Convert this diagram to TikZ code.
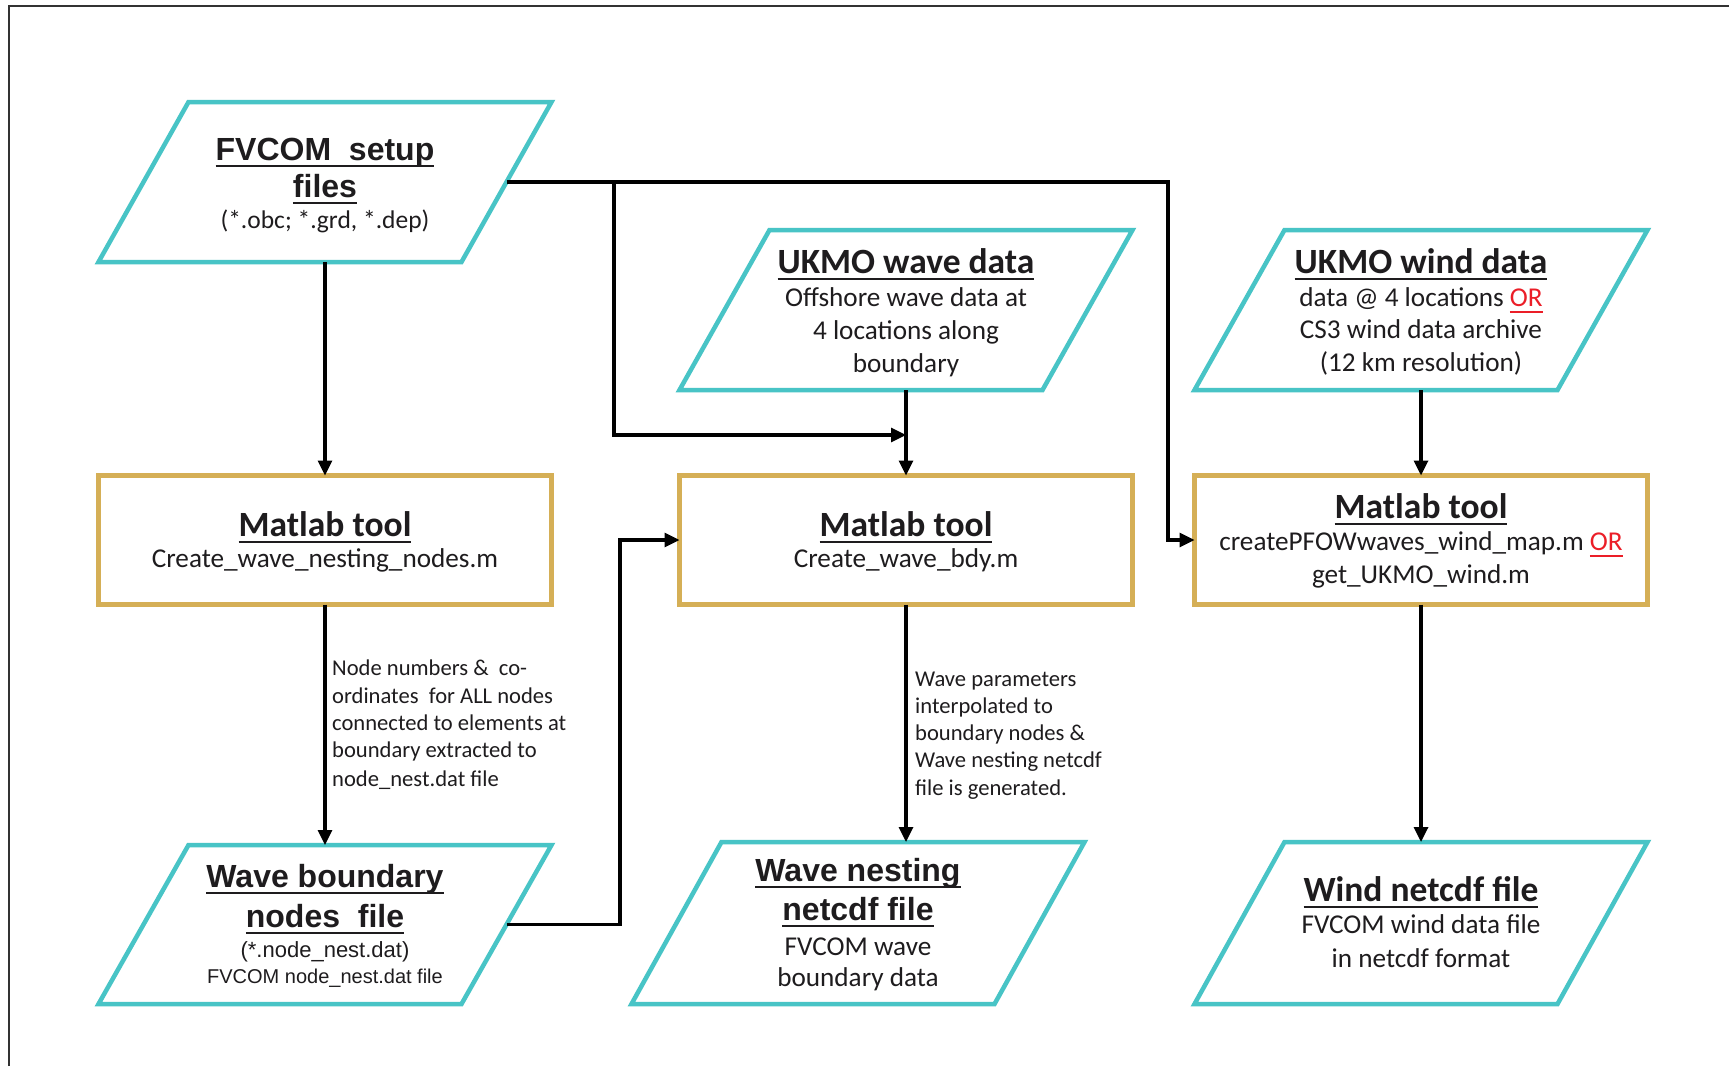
\documentclass[tikz,border=0pt]{standalone}
\usepackage{fontspec}
\setmainfont{Carlito}
\newfontfamily\arialf{Liberation Sans}
\usetikzlibrary{arrows.meta,calc}

\definecolor{tealc}{RGB}{72,196,198}
\definecolor{goldc}{RGB}{213,175,86}
\definecolor{ink}{RGB}{30,28,30}
\definecolor{redor}{RGB}{235,30,40}
\definecolor{framec}{RGB}{50,50,50}

\newsavebox{\myulbox}
\newcommand\myul[1]{\sbox{\myulbox}{#1}\rlap{\rule[-7pt]{\wd\myulbox}{2pt}}\usebox{\myulbox}}
\newcommand\fA{\fontsize{32}{38}\selectfont\arialf\bfseries}
\newcommand\fAa{\fontsize{22}{26}\selectfont\arialf\mdseries}
\newcommand\fAb{\fontsize{20}{24}\selectfont\arialf\mdseries}
\newcommand\fC{\fontsize{35.5}{40}\selectfont\rmfamily\bfseries}
\newcommand\fB{\fontsize{27.2}{32}\selectfont\rmfamily\mdseries}
\newcommand\fBs{\fontsize{25.5}{30}\selectfont\rmfamily\mdseries}
\newcommand\fN{\fontsize{22.6}{27}\selectfont\rmfamily\mdseries}
\newcommand\redor{\textcolor{redor}{\myul{OR}}}
\newcommand\paral[1]{\draw[paraline] ($(#1.north west)+(45,0)$) -- ($(#1.north east)+(45,0)$) -- ($(#1.south east)+(-45,0)$) -- ($(#1.south west)+(-45,0)$) -- cycle;}

\begin{document}
\begin{tikzpicture}[x=1pt,y=-1pt,
  parabox/.style={minimum width=363pt, inner sep=0pt, outer sep=0pt},
  toolbox/.style={draw=goldc, line width=4.5pt, minimum width=453pt, minimum height=129pt, inner sep=0pt, outer sep=0pt},
  paraline/.style={draw=tealc, line width=4.5pt, line join=miter},
  conn/.style={draw=black, line width=3.2pt, -{Triangle[length=15pt,width=14pt]}},
  frameline/.style={draw=framec, line width=2.5pt},
  txt/.style={inner sep=0pt, anchor=base, text=ink},
  note/.style={inner sep=0pt, anchor=base west, text=ink, font=\fN}]
\useasboundingbox (0,0) rectangle (1729,1066);
\fill[white] (0,0) rectangle (1729,1066);
\draw[frameline] (9,1066) -- (9,6) -- (1729,6);

% shapes
\node[parabox, minimum height=160pt] (fv) at (325,182) {};
\node[parabox, minimum height=160pt] (uw) at (906,310) {};
\node[parabox, minimum height=160pt] (ud) at (1421,310) {};
\node[toolbox] (m1) at (325,540) {};
\node[toolbox] (m2) at (906,540) {};
\node[toolbox] (m3) at (1421,540) {};
\node[parabox, minimum height=159pt] (wb) at (325,924.5) {};
\node[parabox, minimum height=162pt] (wn) at (858,923) {};
\node[parabox, minimum height=162pt] (wf) at (1421,923) {};
\paral{fv}
\paral{uw}
\paral{ud}
\paral{wb}
\paral{wn}
\paral{wf}

% texts
\node[txt, font=\fA] (fvt1) at (325,160) {\myul{FVCOM\ \ setup}};
\node[txt, font=\fA] (fvt2) at (325,197) {\myul{files}};
\node[txt, font=\fBs] (fvt3) at (325,228) {(*.obc; *.grd, *.dep)};

\node[txt, font=\fC] (uwt1) at (906,273) {\myul{UKMO wave data}};
\node[txt, font=\fB] (uwt2) at (906,306) {Offshore wave data at};
\node[txt, font=\fB] (uwt3) at (906,339) {4 locations along};
\node[txt, font=\fB] (uwt4) at (906,372) {boundary};

\node[txt, font=\fC] (udt1) at (1421,273) {\myul{UKMO wind data}};
\node[txt, font=\fB] (udt2) at (1421,306) {data @ 4 locations \redor};
\node[txt, font=\fB] (udt3) at (1421,338) {CS3 wind data archive};
\node[txt, font=\fB] (udt4) at (1421,371) {(12 km resolution)};

\node[txt, font=\fC] (m1t1) at (325,536) {\myul{Matlab tool}};
\node[txt, font=\fB] (m1t2) at (325,567) {Create\_wave\_nesting\_nodes.m};

\node[txt, font=\fC] (m2t1) at (906,536) {\myul{Matlab tool}};
\node[txt, font=\fB] (m2t2) at (906,567) {Create\_wave\_bdy.m};

\node[txt, font=\fC] (m3t1) at (1421,518) {\myul{Matlab tool}};
\node[txt, font=\fB] (m3t2) at (1421,550) {createPFOWwaves\_wind\_map.m \redor};
\node[txt, font=\fB] (m3t3) at (1421,583) {get\_UKMO\_wind.m};

\node[txt, font=\fA] (wbt1) at (325,887) {\myul{Wave boundary}};
\node[txt, font=\fA] (wbt2) at (325,927) {\myul{nodes\ \ file}};
\node[txt, font=\fAa] (wbt3) at (325,957) {(*.node\_nest.dat)};
\node[txt, font=\fAb] (wbt4) at (325,983) {FVCOM node\_nest.dat file};

\node[txt, font=\fA] (wnt1) at (858,881) {\myul{Wave nesting}};
\node[txt, font=\fA] (wnt2) at (858,920) {\myul{netcdf file}};
\node[txt, font=\fB] (wnt3) at (858,955) {FVCOM wave};
\node[txt, font=\fB] (wnt4) at (858,986) {boundary data};

\node[txt, font=\fC] (wft1) at (1421,901) {\myul{Wind netcdf file}};
\node[txt, font=\fB] (wft2) at (1421,933) {FVCOM wind data file};
\node[txt, font=\fB] (wft3) at (1421,967) {in netcdf format};

% annotations
\node[note] (na1) at (332,675) {Node numbers \&\ \ co-};
\node[note] (na2) at (332,703) {ordinates\ \ for ALL nodes};
\node[note] (na3) at (332,730) {connected to elements at};
\node[note] (na4) at (332,757) {boundary extracted to};
\node[note] (na5) at (332,786) {node\_nest.dat file};

\node[note] (nb1) at (915,686) {Wave parameters};
\node[note] (nb2) at (915,713) {interpolated to};
\node[note] (nb3) at (915,740) {boundary nodes \&};
\node[note] (nb4) at (915,767) {Wave nesting netcdf};
\node[note] (nb5) at (915,795) {file is generated.};

% connectors
\coordinate (jw) at (1168,540);
\coordinate (b1) at (614,182);
\coordinate (b2) at (906,435);
\coordinate (jb) at (620,540);

\draw[conn] (fv.south) -- (m1.north);
\draw[conn] (fv.east) -| (jw) -- (m3.west);
\draw[conn] (b1) |- (b2);
\draw[conn] (uw.south) -- (m2.north);
\draw[conn] (ud.south) -- (m3.north);
\draw[conn] (m1.south) -- (wb.north);
\draw[conn] (wb.east) -| (jb) -- (m2.west);
\draw[conn] (m2.south) -- (m2.south |- wn.north);
\draw[conn] (m3.south) -- (wf.north);
\end{tikzpicture}
\end{document}
